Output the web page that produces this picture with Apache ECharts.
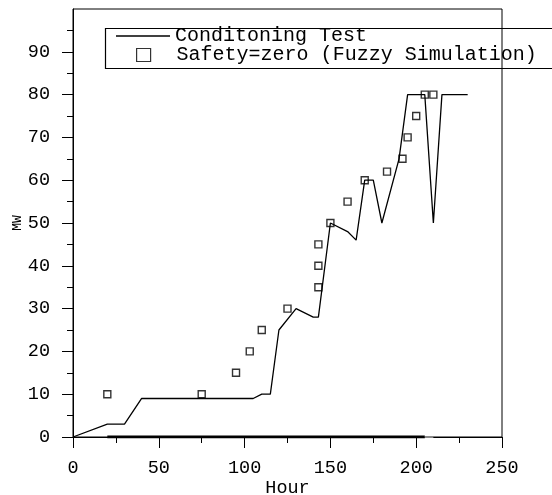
<!DOCTYPE html>
<html>
<head>
<meta charset="utf-8">
<script src="https://cdn.jsdelivr.net/npm/echarts@6/dist/echarts.min.js"></script>
<style>html,body{margin:0;padding:0;background:#fff}#c{width:552px;height:495px}</style>
</head>
<body>
<div id="c"></div>
<script>
// Conditoning Test (line)
var condX = [0, 20, 30, 40, 105, 110, 115, 120, 130, 140, 143, 150, 160, 165, 170, 175, 180, 190, 195, 205, 210, 215, 230];
var condY = [0, 3, 3, 9, 9, 10, 10, 25, 30, 28, 28, 50, 48, 46, 60, 60, 50, 65, 80, 80, 50, 80, 80];
// Safety=zero (Fuzzy Simulation) (squares)
var safeX = [20, 75, 95, 103, 110, 125, 143, 143, 143, 150, 160, 170, 183, 192, 195, 200, 205, 210];
var safeY = [10, 10, 15, 20, 25, 30, 35, 40, 45, 50, 55, 60, 62, 65, 70, 75, 80, 80];
// run of zero values drawn along the x axis
var zeroX = [20, 205];
var zeroY = [0, 0];
var zeroTailX = [205, 210];
var zeroTailY = [0, 0];
// tick labels
var xTicks = [0, 50, 100, 150, 200, 250];
var yTicks = [0, 10, 20, 30, 40, 50, 60, 70, 80, 90];

function pairs(xs, ys) { return xs.map(function (x, i) { return [x, ys[i]]; }); }

var FONT = '"Liberation Mono", "Courier New", monospace';
var chart = echarts.init(document.getElementById('c'));
chart.setOption({
  backgroundColor: '#fff',
  animation: false,
  grid: { left: 73, right: 50, top: 9, bottom: 58, show: true, borderColor: '#000', borderWidth: 1,
    containLabel: false, outerBoundsMode: 'none' },
  xAxis: {
    type: 'value', min: xTicks[0], max: xTicks[xTicks.length - 1], interval: 50,
    name: 'Hour', nameLocation: 'middle', nameGap: 42, nameMoveOverlap: false,
    nameTextStyle: { fontFamily: FONT, fontSize: 18.5, color: '#000' },
    axisLine: { show: true, lineStyle: { color: '#000', width: 1 } },
    axisTick: { show: true, inside: false, length: 11, lineStyle: { color: '#000' } },
    minorTick: { show: true, splitNumber: 2, length: 6, lineStyle: { color: '#000' } },
    splitLine: { show: false },
    axisLabel: { margin: 22, fontFamily: FONT, fontSize: 18.5, color: '#000' }
  },
  yAxis: {
    type: 'value', min: 0, max: 100, interval: 10,
    name: 'MW', nameLocation: 'middle', nameGap: 49, nameMoveOverlap: false,
    nameTextStyle: { fontFamily: FONT, fontSize: 13, color: '#000' },
    axisLine: { show: true, lineStyle: { color: '#000', width: 1 } },
    axisTick: { show: true, inside: false, length: 11, lineStyle: { color: '#000' }, customValues: yTicks },
    minorTick: { show: true, splitNumber: 2, length: 6, lineStyle: { color: '#000' } },
    splitLine: { show: false },
    axisLabel: { margin: 23, fontFamily: FONT, fontSize: 18.5, color: '#000', showMaxLabel: false }
  },
  legend: [
    { data: [{ name: 'Conditoning Test', icon: 'rect' }], left: 116, top: 26, padding: 0, itemWidth: 54, itemHeight: 1.4,
      itemStyle: { color: '#000', borderWidth: 0 },
      textStyle: { fontFamily: FONT, fontSize: 20, color: '#000' } },
    { data: ['Safety=zero (Fuzzy Simulation)'], left: 136, top: 45, padding: 0, itemWidth: 14, itemHeight: 13,
      itemStyle: { color: 'rgba(0,0,0,0)', borderColor: '#000', borderWidth: 1.2 },
      textStyle: { fontFamily: FONT, fontSize: 20, color: '#000', padding: [0, 0, 0, 21] } }
  ],
  graphic: [
    { type: 'rect', left: 103, top: 26, shape: { width: 500, height: 40 },
      style: { fill: 'none', stroke: '#000', lineWidth: 1.2 }, z: 100 }
  ],
  series: [
    { name: 'zeroRun', type: 'line', data: pairs(zeroX, zeroY), symbol: 'none',
      lineStyle: { color: '#000', width: 3 }, z: 3 },
    { name: 'zeroTail', type: 'line', data: pairs(zeroTailX, zeroTailY), symbol: 'none',
      lineStyle: { color: '#888', width: 2 }, z: 3 },
    { name: 'Conditoning Test', type: 'line', data: pairs(condX, condY), symbol: 'none',
      lineStyle: { color: '#000', width: 1.3 }, itemStyle: { color: '#000' }, z: 4 },
    { name: 'Safety=zero (Fuzzy Simulation)', type: 'scatter', data: pairs(safeX, safeY),
      symbol: 'rect', symbolSize: 7,
      itemStyle: { color: 'rgba(0,0,0,0)', borderColor: '#000', borderWidth: 1.4 }, z: 5 }
  ]
});
</script>
</body>
</html>
